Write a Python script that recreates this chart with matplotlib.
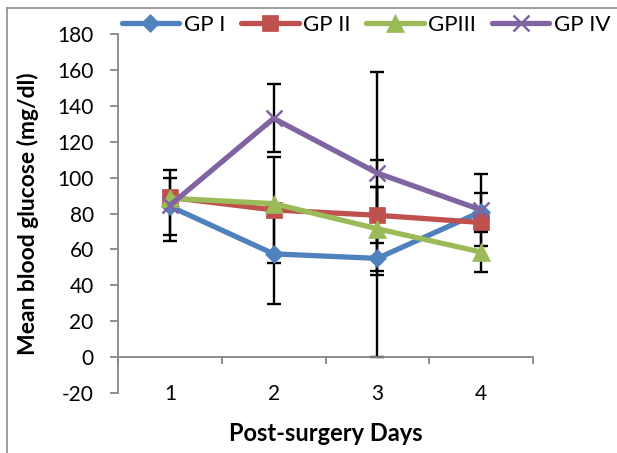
import matplotlib
matplotlib.use('Agg')
import matplotlib.pyplot as plt
from matplotlib.lines import Line2D

plt.rcParams['font.family'] = ['Lato', 'DejaVu Sans']
plt.rcParams['axes.unicode_minus'] = False

# post-surgery days and group means (mg/dl)
days = [1, 2, 3, 4]
gp1 = [84, 57.5, 55, 81]
gp2 = [89, 82, 79, 75]
gp3 = [88.5, 85.5, 71.5, 58.5]
gp4 = [84.5, 133, 102.5, 82]

# standard deviations for the error bars
gp1_err = [16, 28, 55, 10.5]
gp2_err = [0, 29.5, 15.5, 0]
gp3_err = [0, 0, 23.5, 11]
gp4_err = [20, 19, 56.5, 20]

names = ['GP I', 'GP II', 'GPIII', 'GP IV']
colors = ['#4F81BD', '#C0504D', '#9BBB59', '#8064A2']
markers = ['D', 's', '^', 'x']
msizes = [9, 12, 13, 12]

yticks = list(range(-20, 181, 20))

fig = plt.figure(figsize=(6.17, 4.53), dpi=100)
ax = fig.add_axes([118/617, 1-393/453, 415/617, 359/453])

series = [gp1, gp2, gp3, gp4]
errs = [gp1_err, gp2_err, gp3_err, gp4_err]

# error bars sit under the lines and markers
for vals, err in zip(series, errs):
    ax.errorbar(days, vals, yerr=err, fmt='none', ecolor='black',
                elinewidth=1.7, capsize=5, capthick=1.7, zorder=2)

for vals, name, c, m, ms in zip(series, names, colors, markers, msizes):
    ax.plot(days, vals, color=c, marker=m, markersize=ms, linewidth=3.8,
            markeredgewidth=1.8 if m == 'x' else 0.5, markeredgecolor=c,
            label=name, zorder=3, solid_capstyle='round')

ax.set_xlim(0.5, 4.5)
ax.set_ylim(-20, 180)
ax.set_yticks(yticks)

# category axis crosses at zero, labels stay at the bottom
ax.spines['bottom'].set_position(('data', 0))
ax.spines['top'].set_visible(False)
ax.spines['right'].set_visible(False)
for s in ['left', 'bottom']:
    ax.spines[s].set_color('#868686')
    ax.spines[s].set_linewidth(1.3)

ax.set_xticks(days)
ax.set_xticks([0.5, 1.5, 2.5, 3.5, 4.5], minor=True)
ax.tick_params(axis='x', which='major', length=0, pad=19.5, labelsize=15)
ax.tick_params(axis='x', which='minor', length=5, width=1.3, color='#868686')
ax.tick_params(axis='y', length=5.5, width=1.3, color='#868686', labelsize=15, pad=12)

ax.set_ylabel('Mean blood glucose (mg/dl)', fontsize=16.5, fontweight='bold')
ax.yaxis.set_label_coords(-0.19, 0.5)
ax.set_xlabel('Post-surgery Days', fontsize=17, fontweight='bold')
ax.xaxis.set_label_coords(0.5, -0.08)

ax.legend(loc='center', bbox_to_anchor=(366/617, 1-25/453), bbox_transform=fig.transFigure,
          ncol=4, frameon=False, fontsize=16, handlelength=2.6, columnspacing=0.7,
          handletextpad=0.2, borderpad=0)

# outer frame of the chart area
fig.add_artist(Line2D([7/617, 7/617], [0, 1-8/453], color='#8c8c8c', linewidth=1.2))
fig.add_artist(Line2D([7/617, 1], [1-8/453, 1-8/453], color='#8c8c8c', linewidth=1.2))

plt.savefig('out.png', dpi=100)
